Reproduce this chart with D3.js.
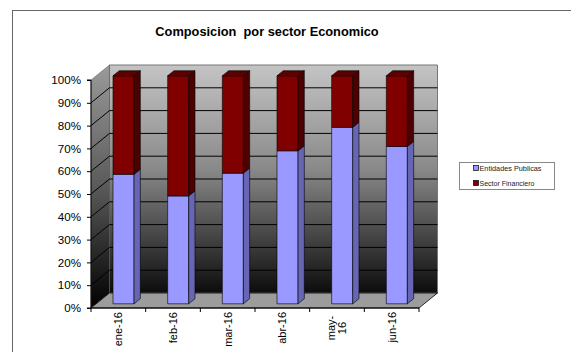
<!DOCTYPE html>
<html>
<head>
<meta charset="utf-8">
<script src="https://cdn.jsdelivr.net/npm/d3@7"></script>
<style>
  html, body { margin: 0; padding: 0; background: #fff; }
  svg { display: block; font-family: Arial, "Liberation Sans", sans-serif; }
</style>
</head>
<body>
<svg id="chart" width="571" height="352"></svg>
<script>
// Monthly composition by economic sector (share of total, %)
const categories = ["ene-16", "feb-16", "mar-16", "abr-16", "may-16", "jun-16"];
const seriesNames = ["Entidades Publicas", "Sector Financiero"];
const entidadesPublicas = [56.8, 47.3, 57.3, 67.1, 77.4, 69.0];
const sectorFinanciero = entidadesPublicas.map(v => 100 - v);
const yTicks = [0, 10, 20, 30, 40, 50, 60, 70, 80, 90, 100];
const seriesColors = {
  front: ["#9999ff", "#800000"],
  side:  ["#6666b3", "#4d0000"],
  top:   ["#7a7acc", "#5c0000"]
};

const svg = d3.select("#chart");

// outer chart frame
svg.append("rect")
  .attr("x", 12.5).attr("y", 10.5).attr("width", 620).attr("height", 400)
  .attr("fill", "#fff").attr("stroke", "#666").attr("stroke-width", 1);

svg.append("text")
  .attr("x", 267).attr("y", 36)
  .attr("text-anchor", "middle")
  .attr("font-size", 12.8).attr("font-weight", "bold")
  .style("white-space", "pre")
  .text("Composicion  por sector Economico");

// 3D geometry: front plane scales plus a depth offset vector
const x = d3.scaleBand().domain(categories).range([91, 419]).padding(0);
const y = d3.scaleLinear().domain([0, 100]).range([308, 80]);
const DX = 18.5, DY = -15;
const P = (px, py, z) => [px + z * DX, py + z * DY];
const poly = pts => "M" + pts.map(p => p.join(",")).join("L") + "Z";

const defs = svg.append("defs");
const wallGrad = defs.append("linearGradient").attr("id", "wallGrad")
  .attr("x1", 0).attr("y1", 0).attr("x2", 0).attr("y2", 1);
wallGrad.append("stop").attr("offset", "0%").attr("stop-color", "#c4c4c4");
wallGrad.append("stop").attr("offset", "45%").attr("stop-color", "#8a8a8a");
wallGrad.append("stop").attr("offset", "100%").attr("stop-color", "#0c0c0c");
const sideGrad = defs.append("linearGradient").attr("id", "sideGrad")
  .attr("x1", 0).attr("y1", 0).attr("x2", 0).attr("y2", 1);
sideGrad.append("stop").attr("offset", "0%").attr("stop-color", "#9a9a9a");
sideGrad.append("stop").attr("offset", "50%").attr("stop-color", "#5a5a5a");
sideGrad.append("stop").attr("offset", "100%").attr("stop-color", "#000");

const [x0, x1] = x.range();
const yTop = y(100), yBot = y(0);

// back wall
svg.append("path")
  .attr("d", poly([P(x0, yTop, 1), P(x1, yTop, 1), P(x1, yBot, 1), P(x0, yBot, 1)]))
  .attr("fill", "url(#wallGrad)").attr("stroke", "#777").attr("stroke-width", 1);

// side wall
svg.append("path")
  .attr("d", poly([P(x0, yTop, 0), P(x0, yTop, 1), P(x0, yBot, 1), P(x0, yBot, 0)]))
  .attr("fill", "url(#sideGrad)").attr("stroke", "#555").attr("stroke-width", 0.5);

// gridlines across side wall and back wall
const grid = svg.append("g").attr("stroke", "#000").attr("stroke-width", 1).attr("fill", "none");
yTicks.filter(t => t > 0 && t < 100).forEach(t => {
  const a = P(x0, y(t), 0), b = P(x0, y(t), 1), c = P(x1, y(t), 1);
  grid.append("path").attr("d", `M${a}L${b}L${c}`);
});

// floor
svg.append("path")
  .attr("d", poly([P(x0, yBot, 0), P(x1, yBot, 0), P(x1, yBot, 1), P(x0, yBot, 1)]))
  .attr("fill", "#9c9c9c").attr("stroke", "#000").attr("stroke-width", 0.8);

// stacked 3D columns
const stack = d3.stack().keys([0, 1])
  (categories.map((c, i) => ({ cat: c, 0: entidadesPublicas[i], 1: sectorFinanciero[i] })));
const zF = 0.28, zB = 0.62;
const barW = x.bandwidth() * 0.385;
const bars = svg.append("g").attr("stroke", "#000").attr("stroke-width", 0.6).attr("stroke-linejoin", "round");
stack.forEach((layer, si) => {
  layer.forEach(d => {
    const cx = x(d.data.cat) + x.bandwidth() / 2;
    const l = cx - barW / 2, r = cx + barW / 2;
    const yb = y(d[0]), yt = y(d[1]);
    bars.append("path")
      .attr("d", poly([P(l, yt, zF), P(r, yt, zF), P(r, yb, zF), P(l, yb, zF)]))
      .attr("fill", seriesColors.front[si]);
    bars.append("path")
      .attr("d", poly([P(r, yt, zF), P(r, yt, zB), P(r, yb, zB), P(r, yb, zF)]))
      .attr("fill", seriesColors.side[si]);
    if (si === stack.length - 1) {
      bars.append("path")
        .attr("d", poly([P(l, yt, zF), P(r, yt, zF), P(r, yt, zB), P(l, yt, zB)]))
        .attr("fill", seriesColors.top[si]);
    }
  });
});

// value axis
const yAxis = d3.axisLeft(y).tickValues(yTicks).tickFormat(d => d + "%")
  .tickSize(4).tickPadding(6);
const gy = svg.append("g").attr("transform", `translate(${x0},0)`).call(yAxis);
gy.select(".domain").attr("stroke", "#000").attr("d", `M-4,${yTop}H0V${yBot}H-4`);
gy.selectAll("text").attr("font-size", 11.6).attr("fill", "#000")
  .attr("font-family", "Arial, 'Liberation Sans', sans-serif");

// category axis: ticks at band boundaries, labels rotated
const gx = svg.append("g").attr("transform", `translate(0,${yBot})`);
gx.append("path").attr("d", `M${x0},0H${x1}`).attr("stroke", "#000");
const bounds = categories.map(c => x(c)).concat([x1]);
gx.selectAll("line.tick").data(bounds).join("line")
  .attr("x1", d => d).attr("x2", d => d).attr("y1", 0).attr("y2", 4)
  .attr("stroke", "#000");
categories.forEach(c => {
  const cx = x(c) + x.bandwidth() / 2;
  const parts = c === "may-16" ? ["may-", "16"] : [c];
  const t = gx.append("text")
    .attr("transform", `translate(${cx},${parts.length > 1 ? 20 : 4}) rotate(-90)`)
    .attr("text-anchor", parts.length > 1 ? "middle" : "end")
    .attr("font-size", 11).attr("fill", "#000");
  parts.forEach((p, i) => {
    t.append("tspan").attr("x", 0)
      .attr("dy", i === 0 ? (parts.length > 1 ? "-0.15em" : "0.35em") : "1em")
      .text(p);
  });
});

// legend
const lg = svg.append("g").attr("transform", "translate(459.5,162.5)");
lg.append("rect").attr("width", 95).attr("height", 27)
  .attr("fill", "#fff").attr("stroke", "#888");
seriesNames.forEach((n, i) => {
  lg.append("rect").attr("x", 14).attr("y", 3 + i * 15).attr("width", 5).attr("height", 5)
    .attr("fill", seriesColors.front[i]).attr("stroke", "#000").attr("stroke-width", 0.7);
  lg.append("text").attr("x", 20).attr("y", 8.5 + i * 15)
    .attr("font-size", 7.5).attr("fill", "#222")
    .attr("textLength", i === 0 ? 62 : 55).attr("lengthAdjust", "spacingAndGlyphs")
    .text(n);
});
</script>
</body>
</html>
